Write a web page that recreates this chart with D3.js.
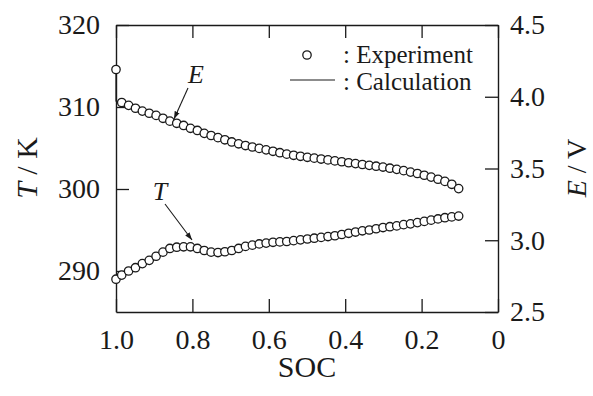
<!DOCTYPE html>
<html><head><meta charset="utf-8">
<script src="https://cdn.jsdelivr.net/npm/d3@7"></script>
<style>body{margin:0;background:#fff}svg{display:block}svg text{font-family:"Liberation Serif","DejaVu Serif",serif}</style>
</head><body>
<svg id="c" width="593" height="396"></svg>
<script>
// ---- data ----
const socTicks = [1.0, 0.8, 0.6, 0.4, 0.2, 0];
const socTickLabels = ["1.0", "0.8", "0.6", "0.4", "0.2", "0"];
const tTicks = [290, 300, 310, 320];
const eTicks = [2.5, 3.0, 3.5, 4.0, 4.5];
const eTickLabels = ["2.5", "3.0", "3.5", "4.0", "4.5"];

// Experiment (circles)
const expSOC = [1.000, 0.985, 0.967, 0.949, 0.931, 0.913, 0.895, 0.877, 0.859, 0.841, 0.823, 0.805, 0.787, 0.769, 0.751, 0.733, 0.715, 0.697, 0.679, 0.661, 0.643, 0.625, 0.607, 0.589, 0.571, 0.553, 0.535, 0.517, 0.499, 0.481, 0.463, 0.445, 0.427, 0.409, 0.391, 0.373, 0.355, 0.337, 0.319, 0.301, 0.283, 0.265, 0.247, 0.229, 0.211, 0.193, 0.175, 0.157, 0.139, 0.121, 0.103];
const expE = [4.19, 3.96, 3.94, 3.92, 3.90, 3.885, 3.87, 3.85, 3.83, 3.815, 3.80, 3.78, 3.765, 3.745, 3.73, 3.715, 3.70, 3.685, 3.672, 3.66, 3.65, 3.64, 3.63, 3.62, 3.61, 3.60, 3.592, 3.585, 3.578, 3.572, 3.566, 3.56, 3.553, 3.547, 3.54, 3.534, 3.528, 3.522, 3.516, 3.51, 3.502, 3.494, 3.485, 3.475, 3.465, 3.453, 3.44, 3.425, 3.41, 3.39, 3.36];
const expT = [289.0, 289.5, 290.0, 290.4, 290.9, 291.3, 291.8, 292.3, 292.75, 292.9, 292.95, 292.95, 292.75, 292.5, 292.3, 292.25, 292.35, 292.5, 292.75, 293.0, 293.15, 293.3, 293.4, 293.5, 293.55, 293.6, 293.7, 293.8, 293.9, 294.0, 294.1, 294.2, 294.3, 294.45, 294.6, 294.75, 294.9, 295.0, 295.15, 295.3, 295.4, 295.5, 295.65, 295.75, 295.9, 296.05, 296.2, 296.35, 296.5, 296.6, 296.7];

// Calculation (lines)
const calcESOC = [1.0, 1.0, 0.985, 0.9, 0.8, 0.7, 0.6, 0.5, 0.4, 0.3, 0.2, 0.15, 0.1];
const calcE    = [4.19, 3.97, 3.955, 3.87, 3.775, 3.69, 3.625, 3.578, 3.544, 3.51, 3.46, 3.42, 3.35];
const calcTSOC = [1.0, 0.95, 0.9, 0.85, 0.82, 0.79, 0.75, 0.72, 0.68, 0.6, 0.5, 0.4, 0.3, 0.2, 0.1];
const calcT    = [289.0, 290.4, 291.7, 292.7, 293.0, 292.7, 292.2, 292.2, 292.6, 293.4, 293.9, 294.5, 295.3, 296.0, 296.7];

// ---- layout ----
const L = 116, R = 498, TOP = 25, BOT = 312;
const svg = d3.select("#c");
const x = d3.scaleLinear().domain([1, 0]).range([L, R]);
const yT = d3.scaleLinear().domain([285, 320]).range([BOT, TOP]);
const yE = d3.scaleLinear().domain([2.5, 4.5]).range([BOT, TOP]);
const ink = "#1a1a1a";

function styleAxis(g) {
  g.attr("font-family", null).attr("font-size", null);
  g.selectAll("path.domain").attr("stroke", ink).attr("stroke-width", 1.4);
  g.selectAll(".tick line").attr("stroke", ink).attr("stroke-width", 1.3);
  g.selectAll("text").attr("font-size", 28).attr("fill", ink);
}

svg.append("g").attr("transform", `translate(0,${BOT})`)
  .call(d3.axisBottom(x).tickValues(socTicks).tickSize(-13).tickSizeOuter(0).tickPadding(17)
    .tickFormat((d, i) => socTickLabels[i]))
  .call(styleAxis);
svg.append("g").attr("transform", `translate(0,${TOP})`)
  .call(d3.axisTop(x).tickValues(socTicks).tickSize(-13).tickSizeOuter(0).tickFormat(""))
  .call(styleAxis);
svg.append("g").attr("transform", `translate(${L},0)`)
  .call(d3.axisLeft(yT).tickValues(tTicks).tickSize(-13).tickSizeOuter(0).tickPadding(16))
  .call(styleAxis);
svg.append("g").attr("transform", `translate(${R},0)`)
  .call(d3.axisRight(yE).tickValues(eTicks).tickSize(-13).tickSizeOuter(0).tickPadding(12)
    .tickFormat((d, i) => eTickLabels[i]))
  .call(styleAxis);

// ---- lines ----
const lineE = d3.line().x(d => x(d[0])).y(d => yE(d[1]));
const lineT = d3.line().x(d => x(d[0])).y(d => yT(d[1]));
svg.append("path").datum(calcESOC.map((s, i) => [s, calcE[i]]))
  .attr("d", lineE).attr("fill", "none").attr("stroke", ink).attr("stroke-width", 1.2);
svg.append("path").datum(calcTSOC.map((s, i) => [s, calcT[i]]))
  .attr("d", lineT).attr("fill", "none").attr("stroke", ink).attr("stroke-width", 1.2);

// ---- circles ----
const r = 4.2;
svg.append("g").selectAll("circle").data(expSOC.map((s, i) => [s, expT[i]])).join("circle")
  .attr("cx", d => x(d[0])).attr("cy", d => yT(d[1])).attr("r", r)
  .attr("fill", "#fff").attr("stroke", ink).attr("stroke-width", 1.3);
svg.append("g").selectAll("circle").data(expSOC.map((s, i) => [s, expE[i]])).join("circle")
  .attr("cx", d => x(d[0])).attr("cy", d => yE(d[1])).attr("r", r)
  .attr("fill", "#fff").attr("stroke", ink).attr("stroke-width", 1.3);

// ---- annotations ----
svg.append("defs").append("marker").attr("id", "ah").attr("viewBox", "0 0 10 10")
  .attr("refX", 10).attr("refY", 5).attr("markerWidth", 7).attr("markerHeight", 7)
  .attr("orient", "auto").append("path").attr("d", "M0,1.5L10,5L0,8.5Z").attr("fill", ink);
svg.append("text").attr("x", 196).attr("y", 83).attr("text-anchor", "middle")
  .attr("font-size", 26).attr("font-style", "italic").attr("fill", ink).text("E");
svg.append("line").attr("x1", 188).attr("y1", 88).attr("x2", 174).attr("y2", 119)
  .attr("stroke", ink).attr("stroke-width", 1.1).attr("marker-end", "url(#ah)");
svg.append("text").attr("x", 160).attr("y", 200).attr("text-anchor", "middle")
  .attr("font-size", 26).attr("font-style", "italic").attr("fill", ink).text("T");
svg.append("line").attr("x1", 165).attr("y1", 204).attr("x2", 192).attr("y2", 240)
  .attr("stroke", ink).attr("stroke-width", 1.1).attr("marker-end", "url(#ah)");

// ---- legend ----
svg.append("circle").attr("cx", 307).attr("cy", 55).attr("r", r)
  .attr("fill", "#fff").attr("stroke", ink).attr("stroke-width", 1.3);
svg.append("line").attr("x1", 290).attr("x2", 335).attr("y1", 80).attr("y2", 80)
  .attr("stroke", ink).attr("stroke-width", 1.2);
svg.append("text").attr("x", 343).attr("y", 63).attr("font-size", 25)
  .attr("fill", ink).text(": Experiment");
svg.append("text").attr("x", 343).attr("y", 90).attr("font-size", 25)
  .attr("fill", ink).text(": Calculation");

// ---- axis titles ----
const tt = svg.append("text").attr("transform", "translate(37,168) rotate(-90)")
  .attr("text-anchor", "middle").attr("font-size", 30).attr("fill", ink);
tt.append("tspan").attr("font-style", "italic").text("T");
tt.append("tspan").text(" / K");
const et = svg.append("text").attr("transform", "translate(586,168) rotate(-90)")
  .attr("text-anchor", "middle").attr("font-size", 28).attr("fill", ink);
et.append("tspan").attr("font-style", "italic").text("E");
et.append("tspan").text(" / V");
svg.append("text").attr("x", 307).attr("y", 377).attr("text-anchor", "middle")
  .attr("font-size", 30).attr("fill", ink).text("SOC");
</script>
</body></html>
